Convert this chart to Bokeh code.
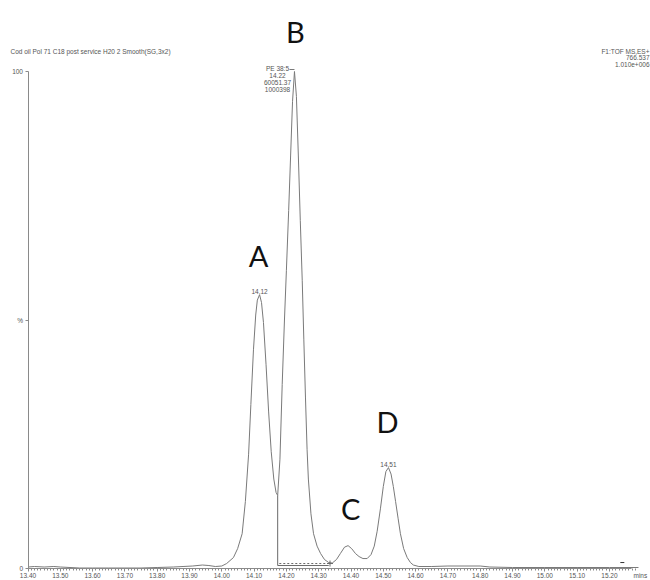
from bokeh.plotting import figure
from bokeh.models import (ColumnDataSource, Range1d, FixedTicker, Label, LinearAxis)
from bokeh.core.properties import value
from bokeh.embed import file_html
from bokeh.resources import INLINE

# ---------------- data ----------------
time_min = [13.40, 13.42, 13.45, 13.48, 13.50, 13.53, 13.56, 13.60, 13.65, 13.70,
            13.75, 13.80, 13.85, 13.88, 13.91, 13.94, 13.96, 13.98, 14.00, 14.015,
            14.036, 14.049, 14.063, 14.073, 14.083, 14.090, 14.098, 14.105, 14.110, 14.117,
            14.123, 14.129, 14.137, 14.145, 14.153, 14.161, 14.168, 14.173, 14.180, 14.187,
            14.194, 14.200, 14.207, 14.213, 14.219, 14.225, 14.231, 14.237, 14.243, 14.249,
            14.254, 14.259, 14.264, 14.268, 14.276, 14.284, 14.295, 14.306, 14.318, 14.331,
            14.342, 14.355, 14.367, 14.380, 14.391, 14.402, 14.414, 14.425, 14.437, 14.450,
            14.462, 14.472, 14.481, 14.491, 14.500, 14.508, 14.516, 14.524, 14.531, 14.538,
            14.546, 14.553, 14.563, 14.574, 14.584, 14.593, 14.61, 14.65, 14.70, 14.75,
            14.80, 14.83, 14.90, 15.00, 15.10, 15.20, 15.29]
intensity = [0.3, 0.4, 0.3, 0.4, 0.3, 0.2, 0.1, 0.1, 0.1, 0.1,
             0.1, 0.2, 0.3, 0.4, 0.5, 0.7, 0.6, 0.4, 0.5, 1.0,
             2.2, 4.0, 7.0, 13.5, 23.0, 33.0, 44.0, 51.0, 54.0, 55.1,
             53.5, 49.5, 41.0, 31.5, 23.5, 18.0, 15.3, 14.7, 22.0, 37.0,
             50.0, 60.0, 72.0, 83.0, 94.0, 100.0, 95.0, 83.0, 70.0, 58.0,
             46.0, 34.5, 24.0, 18.0, 11.0, 7.0, 4.5, 3.0, 1.8, 1.2,
             1.1, 1.8, 3.0, 4.3, 4.6, 4.0, 3.0, 2.4, 2.0, 2.0,
             2.8, 4.5, 7.5, 12.0, 16.5, 19.5, 20.3, 19.0, 16.5, 13.5,
             10.0, 7.0, 4.0, 2.2, 1.2, 0.7, 0.4, 0.4, 0.5, 0.5,
             0.5, 0.3, 0.2, 0.2, 0.2, 0.2, 0.2]

peak_letters = ["A", "B", "C", "D"]
peak_times = [14.117, 14.225, 14.391, 14.516]
peak_heights = [55.1, 100.0, 4.6, 20.3]

rt_times = [14.117, 14.516]
rt_heights = [55.1, 20.3]
rt_labels = ["14.12", "14.51"]

b_info = ["PE 38:5", "14.22", "60051.37", "1000398"]

integ_start, integ_end = 14.173, 14.331
integ_base = 0.6
integ_valley = 14.7
integ_dotted = 1.0
noise_mark = (15.24, 1.2)

x_major = [13.40, 13.50, 13.60, 13.70, 13.80, 13.90, 14.00, 14.10, 14.20,
           14.30, 14.40, 14.50, 14.60, 14.70, 14.80, 14.90, 15.00, 15.10, 15.20]
x_tick_labels = ["13.40", "13.50", "13.60", "13.70", "13.80", "13.90", "14.00",
                 "14.10", "14.20", "14.30", "14.40", "14.50", "14.60", "14.70",
                 "14.80", "14.90", "15.00", "15.10", "15.20"]
y_major = [0, 50, 100]
y_tick_labels = ["0", "%", "100"]

title_left = "Cod oil Pol 71 C18 post service H20 2 Smooth(SG,3x2)"
title_right = ["F1:TOF MS,ES+", "766.537", "1.010e+006"]
x_unit = "mins"

# ---------------- figure ----------------
W, H = 650, 580
PX_X = 323.0   # px per minute
PX_Y = 4.97    # px per percent
AX_X = 27.5    # pixel column of 13.40
AX_Y = 568.0   # pixel row of 0 %
x0 = 13.40 - AX_X / PX_X
x1 = 13.40 + (W - AX_X) / PX_X
y0 = -(H - AX_Y) / PX_Y
y1 = AX_Y / PX_Y

p = figure(width=W, height=H, output_backend="svg", toolbar_location=None,
           x_range=Range1d(x0, x1), y_range=Range1d(y0, y1),
           min_border=0, x_axis_type=None, y_axis_type=None)
p.outline_line_color = None
p.grid.visible = False
p.background_fill_color = "white"
p.border_fill_color = "white"

AX_COLOR = "#8a8a8a"
TXT_COLOR = "#555555"
SMALL = "6.5px"
FONT = "Liberation Sans"

xaxis = LinearAxis(ticker=FixedTicker(ticks=x_major,
                                      minor_ticks=[round(13.40 + i * 0.01, 2) for i in range(189)]),
                   major_label_overrides={t: l for t, l in zip(x_major, x_tick_labels)},
                   bounds=(13.40, 13.40 + (631 - AX_X) / PX_X), fixed_location=0)
xaxis.axis_line_color = AX_COLOR
xaxis.major_tick_line_color = AX_COLOR
xaxis.minor_tick_line_color = AX_COLOR
xaxis.major_tick_out = 3
xaxis.major_tick_in = 0
xaxis.minor_tick_out = 2
xaxis.minor_tick_in = 0
xaxis.major_label_standoff = 1
xaxis.major_label_text_font_size = SMALL
xaxis.major_label_text_font = FONT
xaxis.major_label_text_color = TXT_COLOR
p.add_layout(xaxis, "below")

yaxis = LinearAxis(ticker=FixedTicker(ticks=y_major),
                   major_label_overrides={t: l for t, l in zip(y_major, y_tick_labels)},
                   bounds=(0, 100), fixed_location=13.40)
yaxis.axis_line_color = AX_COLOR
yaxis.major_tick_line_color = AX_COLOR
yaxis.minor_tick_line_color = None
yaxis.major_tick_out = 3
yaxis.major_tick_in = 0
yaxis.major_label_standoff = 2
yaxis.major_label_text_font_size = SMALL
yaxis.major_label_text_font = FONT
yaxis.major_label_text_color = TXT_COLOR
p.add_layout(yaxis, "left")

# chromatogram trace
p.line(time_min, intensity, line_color="#7a7a7a", line_width=1)

# integration markers
p.segment(x0=[integ_start, integ_start], y0=[integ_base, integ_base],
          x1=[integ_start, integ_end], y1=[integ_valley, integ_base],
          line_color="#6a6a6a", line_width=1)
p.line([integ_start + 0.005, integ_end], [integ_dotted, integ_dotted],
       line_color="#6a6a6a", line_dash="2 2", line_width=1)
p.scatter([integ_end + 0.004], [integ_dotted], marker="cross", size=6,
          line_color="#6a6a6a")
p.scatter([noise_mark[0]], [noise_mark[1]], marker="dash", size=4,
          line_color="#333333")

# peak letters
dx_px = [-1, 1, 2.5, -1]
dy_px = [39, 40, 37.5, 46]
src = ColumnDataSource(dict(
    x=[t + d / PX_X for t, d in zip(peak_times, dx_px)],
    y=[h + d / PX_Y for h, d in zip(peak_heights, dy_px)],
    t=peak_letters))
p.text(x="x", y="y", text="t", source=src, text_font=value("Lato"),
       text_font_size="29px", text_align="center", text_baseline="middle",
       text_color="#111111")

# retention-time labels
src_rt = ColumnDataSource(dict(
    x=rt_times, y=[h + 3 / PX_Y for h in rt_heights], t=rt_labels))
p.text(x="x", y="y", text="t", source=src_rt, text_font=value(FONT),
       text_font_size=SMALL, text_align="center", text_baseline="middle",
       text_color=TXT_COLOR)

# B peak info block
b_dy = [3, -4, -11, -17.5]
src_b = ColumnDataSource(dict(
    x=[peak_times[1] - 17 / PX_X] * 4,
    y=[peak_heights[1] + d / PX_Y for d in b_dy], t=b_info))
p.text(x="x", y="y", text="t", source=src_b, text_font=value(FONT),
       text_font_size=SMALL, text_align="center", text_baseline="middle",
       text_color=TXT_COLOR)
p.segment(x0=[peak_times[1] - 5 / PX_X], y0=[peak_heights[1] + 2 / PX_Y],
          x1=[peak_times[1]], y1=[peak_heights[1] + 2 / PX_Y],
          line_color="#7a7a7a", line_width=1)

# header texts
p.add_layout(Label(x=13.40 - (AX_X - 10) / PX_X, y=(AX_Y - 51) / PX_Y, text=title_left,
                   text_font=FONT, text_font_size=SMALL, text_color=TXT_COLOR,
                   text_baseline="middle", text_align="left"))
for i, s in enumerate(title_right):
    p.add_layout(Label(x=13.40 + (649 - AX_X) / PX_X, y=(AX_Y - 50.5 - 6.5 * i) / PX_Y,
                       text=s, text_font=FONT, text_font_size=SMALL,
                       text_color=TXT_COLOR, text_baseline="middle",
                       text_align="right"))
p.add_layout(Label(x=13.40 + (633 - AX_X) / PX_X, y=-7 / PX_Y, text=x_unit,
                   text_font=FONT, text_font_size=SMALL, text_color=TXT_COLOR,
                   text_baseline="middle", text_align="left"))

open("out.html", "w").write(file_html(p, INLINE))
